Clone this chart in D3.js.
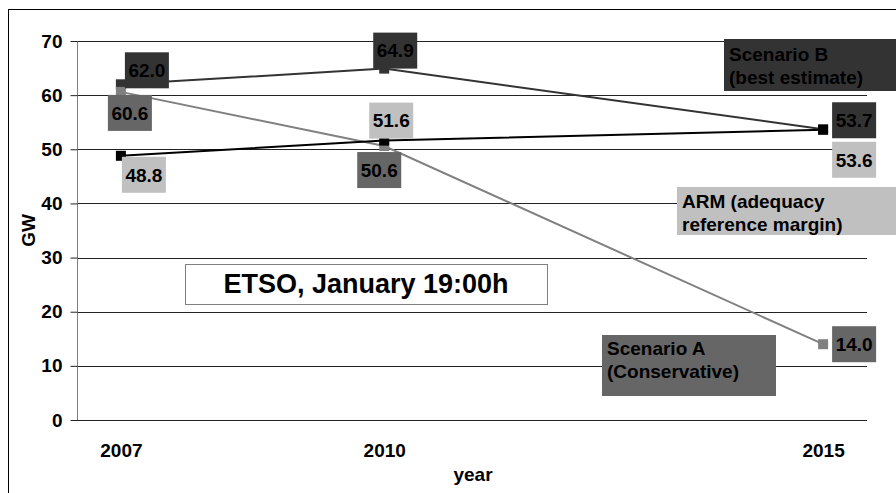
<!DOCTYPE html>
<html>
<head>
<meta charset="utf-8">
<script src="https://cdn.jsdelivr.net/npm/d3@7"></script>
<style>
  body { margin: 0; background: #fff; overflow: hidden; }
  svg text { font-family: Arial, "Liberation Sans", sans-serif; font-weight: bold; fill: #000; }
</style>
</head>
<body>
<div id="chart"></div>
<script>
// data
const years = [2007, 2010, 2015];
const scenarioB = [62.0, 64.9, 53.7];
const scenarioA = [60.6, 50.6, 14.0];
const arm = [48.8, 51.6, 53.6];
const yTicks = [0, 10, 20, 30, 40, 50, 60, 70];
const title = "ETSO, January 19:00h";

// series: style + where the boxed labels sit (offsets from the point)
const series = [
  { name: ["Scenario B", "(best estimate)"], values: scenarioB, line: "#333", box: "#333",
    offsets: [[26, -14], [11, -18], [31, -9]], nameBox: { x: 724, y: 39, w: 200, h: 52, ty: 22 } },
  { name: ["Scenario A", "(Conservative)"], values: scenarioA, line: "#808080", box: "#666",
    offsets: [[9, 21], [-5, 24], [31, 0]], nameBox: { x: 602, y: 335, w: 174, h: 61, ty: 20 } },
  { name: ["ARM (adequacy", "reference margin)"], values: arm, line: "#000", box: "#c0c0c0",
    offsets: [[23, 19], [7, -20], [31, 30]], nameBox: { x: 677, y: 187, w: 240, h: 48, ty: 21 } }
];

const W = 896, H = 493;
const margin = { top: 41, right: 29, bottom: 73, left: 77 };

const svg = d3.select("#chart")
  .append("svg")
  .attr("width", W)
  .attr("height", H);

// outer chart frame (runs off the right/bottom of the picture)
svg.append("rect")
  .attr("x", 8.5).attr("y", 9.5)
  .attr("width", 1000).attr("height", 600)
  .attr("fill", "none")
  .attr("stroke", "#000");

const xScale = d3.scaleLinear()
  .domain([2006.5, 2015.5])
  .range([margin.left, W - margin.right]);

const yScale = d3.scaleLinear()
  .domain([0, 70])
  .range([H - margin.bottom, margin.top]);

// gridlines
svg.append("g")
  .selectAll("line")
  .data(yTicks)
  .enter()
  .append("line")
  .attr("x1", margin.left)
  .attr("x2", W - margin.right)
  .attr("y1", d => Math.round(yScale(d)) + 0.5)
  .attr("y2", d => Math.round(yScale(d)) + 0.5)
  .attr("stroke", "#222")
  .attr("stroke-width", 1);

// y axis
const yAxis = d3.axisLeft(yScale)
  .tickValues(yTicks)
  .tickSize(7)
  .tickPadding(8);

const yG = svg.append("g")
  .attr("transform", `translate(${margin.left + 0.5},0)`)
  .call(yAxis);
yG.select(".domain").attr("stroke", "#808080").attr("d", `M0,${yScale(70)}V${yScale(0)}`);
yG.selectAll(".tick line").attr("stroke", "#222");
yG.selectAll(".tick text").attr("font-size", 19).attr("fill", "#000");

// x axis (labels only)
const xAxis = d3.axisBottom(xScale)
  .tickValues(years)
  .tickFormat(d3.format("d"))
  .tickSize(0)
  .tickPadding(24);

const xG = svg.append("g")
  .attr("transform", `translate(0,${yScale(0)})`)
  .call(xAxis);
xG.select(".domain").remove();
xG.selectAll(".tick text").attr("font-size", 19).attr("fill", "#000");

// axis titles
svg.append("text")
  .attr("x", 473).attr("y", 481)
  .attr("text-anchor", "middle")
  .attr("font-size", 19)
  .text("year");

svg.append("text")
  .attr("transform", `translate(35,${(yScale(0) + yScale(70)) / 2}) rotate(-90)`)
  .attr("text-anchor", "middle")
  .attr("font-size", 19)
  .text("GW");

// lines + markers
const line = d3.line()
  .x((d, i) => xScale(years[i]))
  .y(d => yScale(d));

for (const s of series) {
  svg.append("path")
    .datum(s.values)
    .attr("fill", "none")
    .attr("stroke", s.line)
    .attr("stroke-width", 2)
    .attr("d", line);
}
for (const s of series) {
  svg.append("g")
    .selectAll("rect")
    .data(s.values)
    .enter()
    .append("rect")
    .attr("x", (d, i) => xScale(years[i]) - 5)
    .attr("y", d => yScale(d) - 5)
    .attr("width", 10)
    .attr("height", 10)
    .attr("fill", s.line);
}

// boxed data labels
const bw = 44, bh = 36;
for (const s of series) {
  const lab = svg.append("g")
    .selectAll("g")
    .data(s.values)
    .enter()
    .append("g")
    .attr("transform", (d, i) => `translate(${xScale(years[i]) + s.offsets[i][0]},${yScale(d) + s.offsets[i][1]})`);
  lab.append("rect")
    .attr("x", -bw / 2).attr("y", -bh / 2)
    .attr("width", bw).attr("height", bh)
    .attr("fill", s.box);
  lab.append("text")
    .attr("text-anchor", "middle")
    .attr("dy", "0.36em")
    .attr("font-size", 19)
    .text(d => d3.format(".1f")(d));
}

// series name labels
for (const s of series) {
  const b = s.nameBox;
  svg.append("rect")
    .attr("x", b.x).attr("y", b.y)
    .attr("width", b.w).attr("height", b.h)
    .attr("fill", s.box);
  const t = svg.append("text")
    .attr("x", b.x + 5)
    .attr("y", b.y + b.ty)
    .attr("font-size", 19);
  s.name.forEach((ln, j) => {
    t.append("tspan")
      .attr("x", b.x + 5)
      .attr("dy", j === 0 ? 0 : 23)
      .text(ln);
  });
}

// title box
svg.append("rect")
  .attr("x", 185.5).attr("y", 264.5)
  .attr("width", 362).attr("height", 40)
  .attr("fill", "#fff")
  .attr("stroke", "#808080");
svg.append("text")
  .attr("x", 366).attr("y", 293)
  .attr("text-anchor", "middle")
  .attr("font-size", 27)
  .text(title);
</script>
</body>
</html>
